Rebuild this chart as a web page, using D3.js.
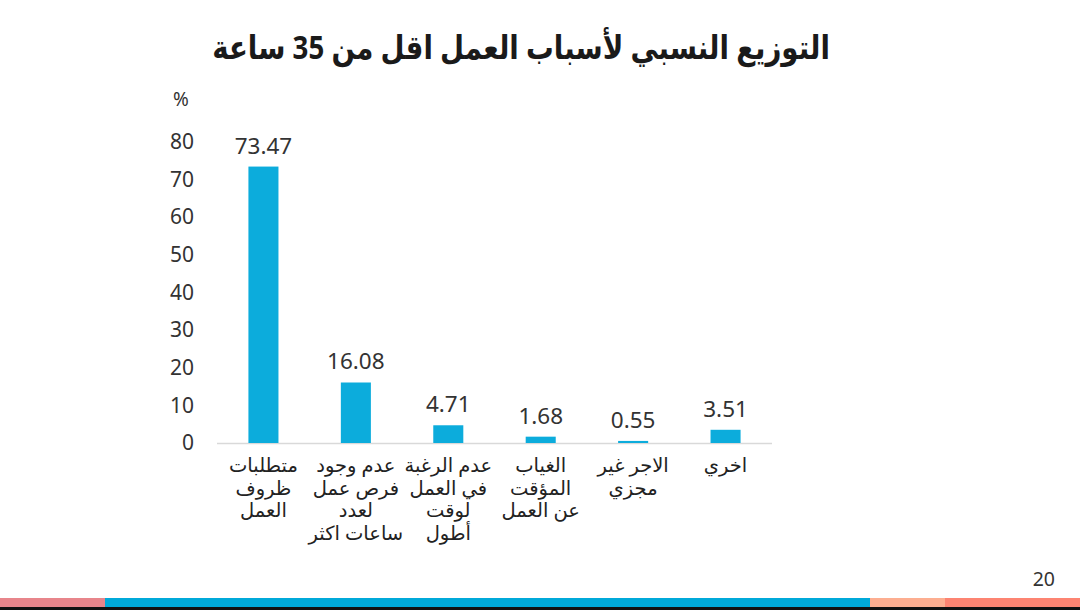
<!DOCTYPE html>
<html><head><meta charset="utf-8">
<script src="https://cdn.jsdelivr.net/npm/d3@7"></script>
<style>
html,body{margin:0;padding:0;background:#fff;}
svg{display:block;font-family:"Noto Sans","DejaVu Sans",sans-serif;}
</style></head>
<body>
<svg id="c" width="1080" height="610"></svg>
<script>
const categories = [
  ["متطلبات","ظروف","العمل"],
  ["عدم وجود","فرص عمل","لعدد","ساعات اكثر"],
  ["عدم الرغبة","في العمل","لوقت","أطول"],
  ["الغياب","المؤقت","عن العمل"],
  ["الاجر غير","مجزي"],
  ["اخري"]
];
const values = [73.47, 16.08, 4.71, 1.68, 0.55, 3.51];
const valueLabels = ["73.47","16.08","4.71","1.68","0.55","3.51"];
const yTicks = [0,10,20,30,40,50,60,70,80];
const title = "التوزيع النسبي لأسباب العمل اقل من 35 ساعة";
const unitLabel = "%";
const pageNumber = "20";

const svg = d3.select("#c");
const x = d3.scaleBand().domain(d3.range(values.length)).range([217, 772]).paddingInner(0.675).paddingOuter(0.34);
const y = d3.scaleLinear().domain([0, 80]).range([443, 142]);

// title, fitted to the reference width
const t = svg.append("text").attr("y", 59).attr("text-anchor", "middle")
  .attr("direction", "rtl").attr("font-size", 33).attr("font-weight", "bold").attr("fill", "#1a1a1a").text(title);
const tw = t.node().getComputedTextLength();
const sx = 618 / tw;
t.attr("x", 0).attr("transform", `translate(521,0) scale(${sx},1)`);

svg.append("text").attr("x", 181).attr("y", 106).attr("text-anchor", "middle")
  .attr("font-size", 19).attr("fill", "#333").text(unitLabel);

// y axis (no line)
const yAxis = d3.axisLeft(y).tickValues(yTicks).tickSize(0).tickPadding(0);
const gy = svg.append("g").attr("transform", "translate(194,0)").call(yAxis);
gy.select(".domain").remove();
gy.selectAll("text").attr("font-size", 21).attr("fill", "#333").attr("font-family", "'Noto Sans','DejaVu Sans',sans-serif");

// baseline
svg.append("line").attr("x1", 217).attr("x2", 772).attr("y1", y(0) + 0.5).attr("y2", y(0) + 0.5)
  .attr("stroke", "#d9d9d9").attr("stroke-width", 1.5);

// bars
svg.selectAll("rect.bar").data(values).join("rect").attr("class", "bar")
  .attr("x", (d, i) => x(i)).attr("width", x.bandwidth())
  .attr("y", d => y(d)).attr("height", d => y(0) - y(d))
  .attr("fill", "#0cacdc");

// value labels
svg.selectAll("text.val").data(values).join("text").attr("class", "val")
  .attr("x", (d, i) => x(i) + x.bandwidth() / 2).attr("y", d => y(d) - 13)
  .attr("text-anchor", "middle").attr("font-size", 22.5).attr("fill", "#333")
  .text((d, i) => valueLabels[i]);

// category labels
const cat = svg.selectAll("text.cat").data(categories).join("text").attr("class", "cat")
  .attr("x", (d, i) => x(i) + x.bandwidth() / 2).attr("y", 472)
  .attr("text-anchor", "middle").attr("direction", "rtl").attr("font-size", 19.5).attr("fill", "#222");
cat.selectAll("tspan").data(d => d).join("tspan")
  .attr("x", function () { return d3.select(this.parentNode).attr("x"); })
  .attr("dy", (d, j) => j === 0 ? 0 : 22.5).text(d => d);

// page number
svg.append("text").attr("x", 1055).attr("y", 586).attr("text-anchor", "end")
  .attr("font-size", 19.5).attr("fill", "#333").text(pageNumber);

// bottom strip
const strips = [[0,105,"#e8858b"],[105,870,"#00a9d9"],[870,945,"#fdae91"],[945,1080,"#fd8472"]];
svg.selectAll("rect.strip").data(strips).join("rect").attr("class", "strip")
  .attr("x", d => d[0]).attr("width", d => d[1] - d[0]).attr("y", 598).attr("height", 9).attr("fill", d => d[2]);
svg.append("rect").attr("x", 0).attr("y", 607).attr("width", 1080).attr("height", 3).attr("fill", "#111");
</script>
</body></html>
